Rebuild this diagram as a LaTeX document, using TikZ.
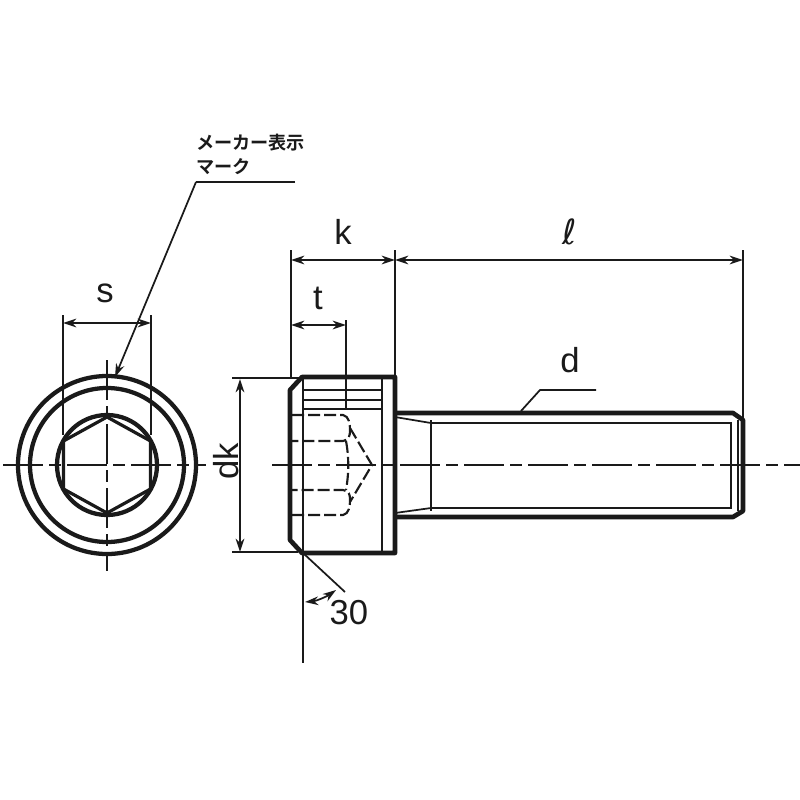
\documentclass[tikz,border=0pt]{standalone}
\usepackage{fontspec}
\setmainfont{Liberation Sans}
\newfontfamily\cjkjp{Noto Sans CJK JP Bold}
\newfontfamily\scriptell{DejaVu Sans}
\usetikzlibrary{arrows.meta}
\usetikzlibrary{positioning}
\definecolor{inkdark}{HTML}{1A1A1A}
\tikzset{
  outline/.style={line width=3.5pt,line join=round},
  ringline/.style={line width=3.2pt},
  midline/.style={line width=1.6pt},
  thinline/.style={line width=1.3pt},
  dimline/.style={line width=1.3pt,<->},
  hiddenline/.style={line width=1.6pt,dash pattern=on 9pt off 3pt},
  axisline/.style={line width=1.3pt,dash pattern=on 30pt off 4.5pt on 9pt off 4.5pt},
  dimlabel/.style={inner sep=0pt,font=\fontsize{26}{28}\selectfont},
  marklabel/.style={inner sep=0pt,anchor=west,font=\fontsize{13.6}{15}\cjkjp}
}

\begin{document}
\begin{tikzpicture}[x=0.75pt,y=-0.75pt,>={Stealth[length=10pt,width=6.5pt]},color=inkdark]

 \useasboundingbox (0,0) rectangle (800,800);

 % Points used by the dimension lines
 \coordinate (sL) at (63,323);
 \coordinate (sR) at (151,323);
 \coordinate (kL) at (291,260);
 \coordinate (kR) at (395,260);
 \coordinate (lR) at (743,260);
 \coordinate (tR) at (346,325);
 \coordinate (tL) at (291,325);
 \coordinate (dkT) at (240,379);
 \coordinate (dkB) at (240,552);
 \coordinate (markA) at (295,182);
 \coordinate (markB) at (196,182);
 \coordinate (markC) at (115,377);
 \coordinate (dA) at (596,390);
 \coordinate (dB) at (540,390);
 \coordinate (dC) at (521,411);

 % Centre lines
 \draw[axisline] (3,465) -- (206,465);
 \draw[axisline] (272,465) -- (800,465);
 \draw[axisline] (107,360) -- (107,571);

 % End view of the head
 \draw[ringline] (107,465) circle (89);
 \draw[ringline] (107,465) circle (77);
 \draw[ringline] (107,465) circle (50);
 \draw[line width=2.4pt,line join=round] (107,417) -- (150.5,441) -- (150.5,489)
   -- (107,513) -- (63.5,489) -- (63.5,441) -- cycle;

 % Side view: head
 \draw[outline] (302,377) -- (395,377) -- (395,553) -- (302,553) -- (290,540)
   -- (290,390) -- cycle;
 \draw[midline] (303,379) -- (303,663);
 \draw[midline] (382,377) -- (382,553);
 \foreach \yy in {390,400,409}
   \draw[midline] (303,\yy) -- (382,\yy);

 % Socket, hidden lines
 \draw[hiddenline] (292,415) -- (343,415) .. controls (349,416) and (350,424) .. (350,430)
   .. controls (350,436) and (349,440) .. (343,441) -- (292,441);
 \draw[hiddenline] (292,515) -- (343,515) .. controls (349,514) and (350,506) .. (350,500)
   .. controls (350,494) and (349,491) .. (343,490) -- (292,490);
 \draw[hiddenline] (346,441) .. controls (349,457) and (349,473) .. (346,490);
 \draw[hiddenline] (350,428) -- (372,465) -- (350,502);

 % Side view: threaded shank
 \draw[outline] (395,413) -- (733,413) -- (743,420) -- (743,511) -- (733,517) -- (395,517);
 \draw[midline] (431,423) -- (731,423) -- (731,508) -- (431,508);
 \draw[midline] (431,420) -- (431,511);
 \draw[thinline] (395,417) -- (431,423);
 \draw[thinline] (395,513) -- (431,508);
 \draw[thinline] (738,420) -- (738,511);

 % Extension lines
 \foreach \xx/\yy/\zz in {63/315/435,151/315/435,291/250/377,395/250/377,743/250/418,346/320/409}
   \draw[thinline] (\xx,\yy) -- (\xx,\zz);
 \draw[thinline] (232,378) -- (300,378);
 \draw[thinline] (232,552) -- (298,552);

 % Dimension lines
 \draw[dimline] (sL) -- (sR);
 \draw[dimline] (kL) -- (kR);
 \draw[dimline] (kR) -- (lR);
 \draw[dimline] (tL) -- (tR);
 \draw[dimline] (dkT) -- (dkB);

 % Leaders
 \draw[thinline] (markA) -- (markB);
 \draw[thinline,->] (markB) -- (markC);
 \draw[thinline] (dA) -- (dB) -- (dC);

 % Chamfer angle
 \draw[thinline] (303,553) -- (345,592);
 \draw[dimline] (305,602) .. controls (316,601) and (326,597) .. (336,590);

 % Labels
 \node[marklabel] (markTop) at (196,143) {メーカー表示};
 \node[marklabel] (markBottom) at (196,167) {マーク};
 \node[dimlabel] (sLabel) at (105,293) {s};
 \node[dimlabel] (kLabel) at (343,232) {k};
 \node[dimlabel] (lLabel) at (570,232) {\scriptell ℓ};
 \node[dimlabel] (tLabel) at (318,298) {t};
 \node[dimlabel] (dLabel) at (570,360) {d};
 \node[dimlabel,rotate=90] (dkLabel) at (226,461) {dk};
 \node[dimlabel] (angleLabel) at (349,613) {30};

\end{tikzpicture}
\end{document}
